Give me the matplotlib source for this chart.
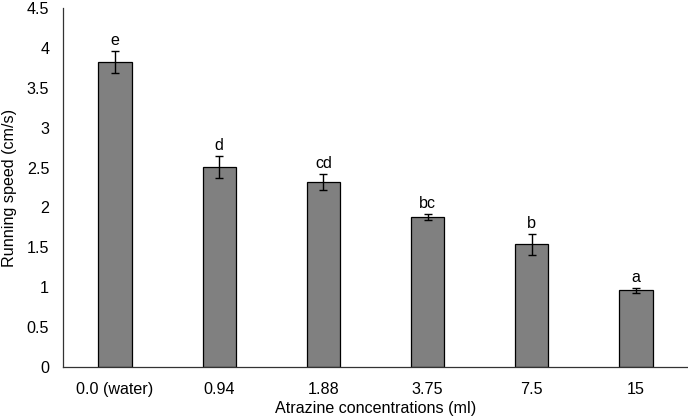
import numpy as np
import matplotlib.pyplot as plt

plt.rcParams['font.family'] = ['Liberation Sans', 'DejaVu Sans']

# data
groups = ['0.0 (water)', '0.94', '1.88', '3.75', '7.5', '15']
speed = [3.82, 2.51, 2.32, 1.88, 1.54, 0.96]
err = [0.14, 0.14, 0.10, 0.035, 0.13, 0.03]
letters = ['e', 'd', 'cd', 'bc', 'b', 'a']

fig = plt.figure(figsize=(6.88, 4.2), dpi=100)
ax = fig.add_axes([0.0916, 0.1262, 0.9084, 0.8548])

x = np.arange(len(groups))
ax.bar(x, speed, width=0.32, color='#808080', edgecolor='black', linewidth=0.9,
       yerr=err, capsize=3.2, error_kw=dict(elinewidth=1, capthick=1, ecolor='black'))

for xi, v, e, lab in zip(x, speed, err, letters):
    ax.annotate(lab, (xi, v + e), xytext=(0, 2), textcoords='offset points',
                ha='center', va='bottom', fontsize=11.6)

ax.set_xlim(-0.5, len(groups) - 0.5)
ax.set_ylim(0, 4.5)
ax.set_yticks(np.arange(0, 4.51, 0.5))
ax.set_yticklabels(['0', '0.5', '1', '1.5', '2', '2.5', '3', '3.5', '4', '4.5'])
ax.set_xticks(x)
ax.set_xticklabels(groups)
ax.tick_params(axis='both', length=0, labelsize=11.6)
ax.tick_params(axis='y', pad=10)
ax.tick_params(axis='x', pad=10.5)

for s in ['top', 'right']:
    ax.spines[s].set_visible(False)
for s in ['left', 'bottom']:
    ax.spines[s].set_color('#333333')
    ax.spines[s].set_linewidth(0.9)

ax.set_ylabel('Running speed (cm/s)', fontsize=11.6, labelpad=7)
ax.set_xlabel('Atrazine concentrations (ml)', fontsize=11.6, labelpad=3)

fig.savefig('out.png', dpi=100)
